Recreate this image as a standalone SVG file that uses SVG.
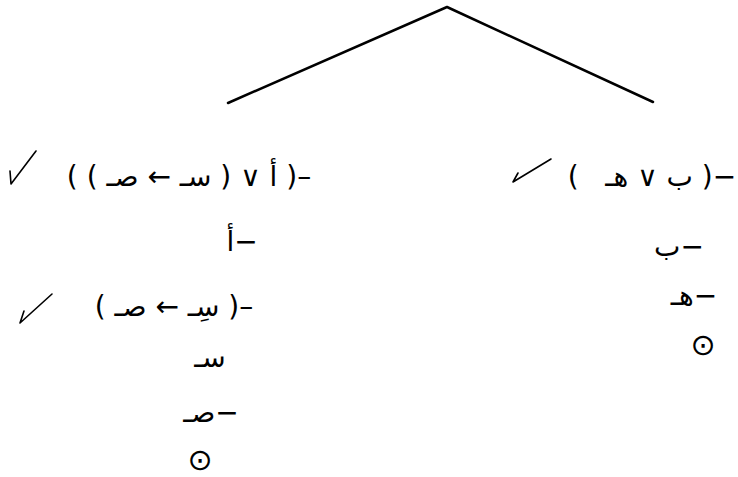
<svg xmlns="http://www.w3.org/2000/svg" width="738" height="477" viewBox="0 0 738 477">
<style>
.f{font-family:"DejaVu Sans",sans-serif;font-size:28px;fill:#000}
.cl{font-family:"DejaVu Sans",sans-serif;font-size:30px;fill:#000}
.edge{stroke:#000;stroke-width:2.5;fill:none;stroke-linecap:round;stroke-linejoin:round}
.tick{stroke:#000;stroke-width:1.6;fill:none;stroke-linecap:round;stroke-linejoin:round}
</style>
<rect width="738" height="477" fill="#fff"/>
<g id="connectors">
<path class="edge" d="M228,103 L447,7 L653,102"/>
</g>
<g id="n-left1">
<path class="tick" d="M10,171 L11,184 L36,151"/>
<text class="f" x="189" y="186" direction="rtl" text-anchor="middle" xml:space="preserve">–( أ ∨ ( سـ ← صـ ) )</text>
</g>
<g id="n-right1">
<path class="tick" d="M518,173 L513,182 L551,159"/>
<text class="f" x="652" y="186" direction="rtl" text-anchor="middle" xml:space="preserve">−( ب ∨ هـ   )</text>
</g>
<g id="n-left2">
<text class="f" x="242" y="251" direction="rtl" text-anchor="middle">−أ</text>
</g>
<g id="n-left3">
<path class="tick" d="M24,311 L20,323 L52,294"/>
<text class="f" x="174" y="316" direction="rtl" text-anchor="middle" xml:space="preserve">–( سِـ ← صـ )</text>
</g>
<g id="n-left4">
<text class="f" x="210" y="367" direction="rtl" text-anchor="middle">سـ</text>
</g>
<g id="n-left5">
<text class="f" x="211" y="422" direction="rtl" text-anchor="middle">−صـ</text>
</g>
<g id="n-left6">
<text class="cl" x="200" y="470" text-anchor="middle">⊙</text>
</g>
<g id="n-right2">
<text class="f" x="679" y="256" direction="rtl" text-anchor="middle">−ب</text>
</g>
<g id="n-right3">
<text class="f" x="694" y="305" direction="rtl" text-anchor="middle">−هـ</text>
</g>
<g id="n-right4">
<text class="cl" x="703" y="355" text-anchor="middle">⊙</text>
</g>
</svg>
